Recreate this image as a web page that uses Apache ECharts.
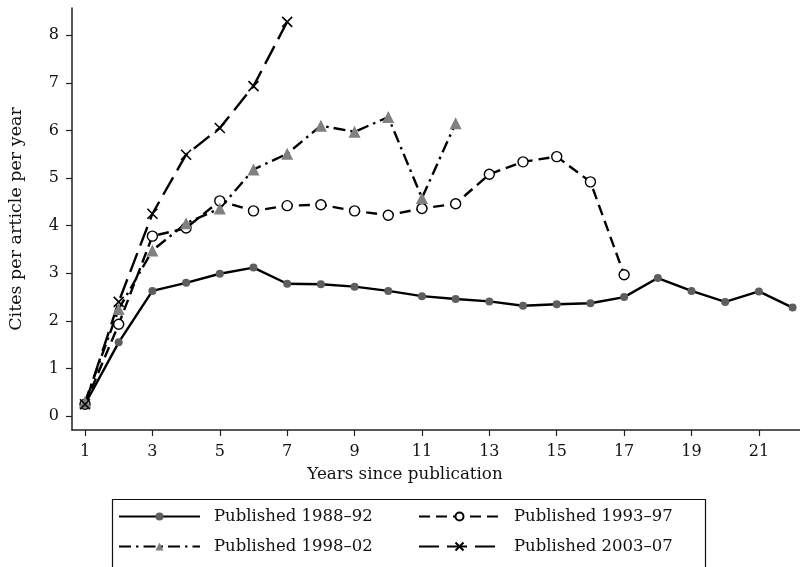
<!DOCTYPE html>
<html>
<head>
<meta charset="utf-8">
<script src="https://cdn.jsdelivr.net/npm/echarts@6/dist/echarts.min.js"></script>
<style>html,body{margin:0;padding:0;background:#fff}#c{width:800px;height:567px}</style>
</head>
<body>
<div id="c"></div>
<script>
const years = [1,2,3,4,5,6,7,8,9,10,11,12,13,14,15,16,17,18,19,20,21,22];
const xTicks = [1,3,5,7,9,11,13,15,17,19,21];
const yTicks = [0,1,2,3,4,5,6,7,8];
const names = ['Published 1988–92','Published 1993–97','Published 1998–02','Published 2003–07'];
const s1988 = [0.25,1.55,2.63,2.80,2.99,3.12,2.78,2.77,2.72,2.63,2.52,2.46,2.41,2.32,2.35,2.37,2.50,2.90,2.63,2.40,2.62,2.28];
const s1993 = [0.25,1.93,3.78,3.95,4.52,4.31,4.42,4.44,4.31,4.22,4.36,4.46,5.08,5.34,5.45,4.92,2.97];
const s1998 = [0.30,2.25,3.48,4.05,4.36,5.18,5.51,6.10,5.97,6.28,4.58,6.15];
const s2003 = [0.25,2.40,4.25,5.49,6.05,6.93,8.28];

const font = 'DejaVu Serif';
const pairs = arr => arr.map((v,i)=>[years[i], v]);

function legendAt(name, left, top){
  return {
    data:[name], left:left, top:top, padding:0,
    itemWidth:81, itemHeight:10, itemGap:0,
    textStyle:{fontFamily:font, fontSize:16.5, color:'#111', padding:[0,0,0,9]}
  };
}

const chart = echarts.init(document.getElementById('c'), null, {renderer:'canvas'});
chart.setOption({
  animation:false,
  backgroundColor:'#fff',
  textStyle:{fontFamily:font, color:'#111'},
  grid:{left:72, right:0, top:8, bottom:137, containLabel:false, outerBoundsMode:'none'},
  graphic:[{
    type:'rect', left:110, top:497, silent:true,
    shape:{width:593, height:90},
    style:{fill:'none', stroke:'#111', lineWidth:1.2}
  }],
  xAxis:{
    type:'value', min:0.614, max:22.22,
    name:'Years since publication', nameLocation:'middle', nameGap:36,
    nameTextStyle:{fontFamily:font, fontSize:16.7, color:'#111', padding:[0,62,0,0]},
    axisLine:{onZero:false, lineStyle:{color:'#222', width:1.5}},
    axisTick:{show:true, length:6, customValues:xTicks, lineStyle:{color:'#222', width:1.2}},
    axisLabel:{customValues:xTicks, fontFamily:font, fontSize:16, color:'#111', margin:14},
    splitLine:{show:false}
  },
  yAxis:{
    type:'value', min:-0.29, max:8.57,
    name:'Cites per article per year', nameLocation:'middle', nameGap:47,
    nameTextStyle:{fontFamily:font, fontSize:17.5, color:'#111'},
    axisLine:{show:true, onZero:false, lineStyle:{color:'#222', width:1.5}},
    axisTick:{show:true, length:6, customValues:yTicks, lineStyle:{color:'#222', width:1.2}},
    axisLabel:{customValues:yTicks, fontFamily:font, fontSize:16, color:'#111', margin:13},
    splitLine:{show:false}
  },
  legend:[
    legendAt(names[0], 118, 508),
    legendAt(names[1], 418, 508),
    legendAt(names[2], 118, 538),
    legendAt(names[3], 418, 538)
  ],
  series:[
    {
      name:names[0], type:'line', data:pairs(s1988),
      symbol:'circle', symbolSize:8,
      itemStyle:{color:'#5e5e5e'},
      lineStyle:{color:'#000', width:2.4, type:'solid'}
    },
    {
      name:names[1], type:'line', data:pairs(s1993),
      symbol:'circle', symbolSize:10,
      itemStyle:{color:'#fff', borderColor:'#000', borderWidth:1.4},
      lineStyle:{color:'#000', width:2.4, type:[11,6]}
    },
    {
      name:names[2], type:'line', data:pairs(s1998),
      symbol:'triangle', symbolSize:12,
      itemStyle:{color:'#808080'},
      lineStyle:{color:'#000', width:2.4, type:[12,5,2.5,5]}
    },
    {
      name:names[3], type:'line', data:pairs(s2003),
      symbol:'path://M0,0L10,10M10,0L0,10', symbolSize:10,
      itemStyle:{color:'transparent', borderColor:'#000', borderWidth:1.6},
      lineStyle:{color:'#000', width:2.4, type:[20,8]}
    }
  ]
});
</script>
</body>
</html>
